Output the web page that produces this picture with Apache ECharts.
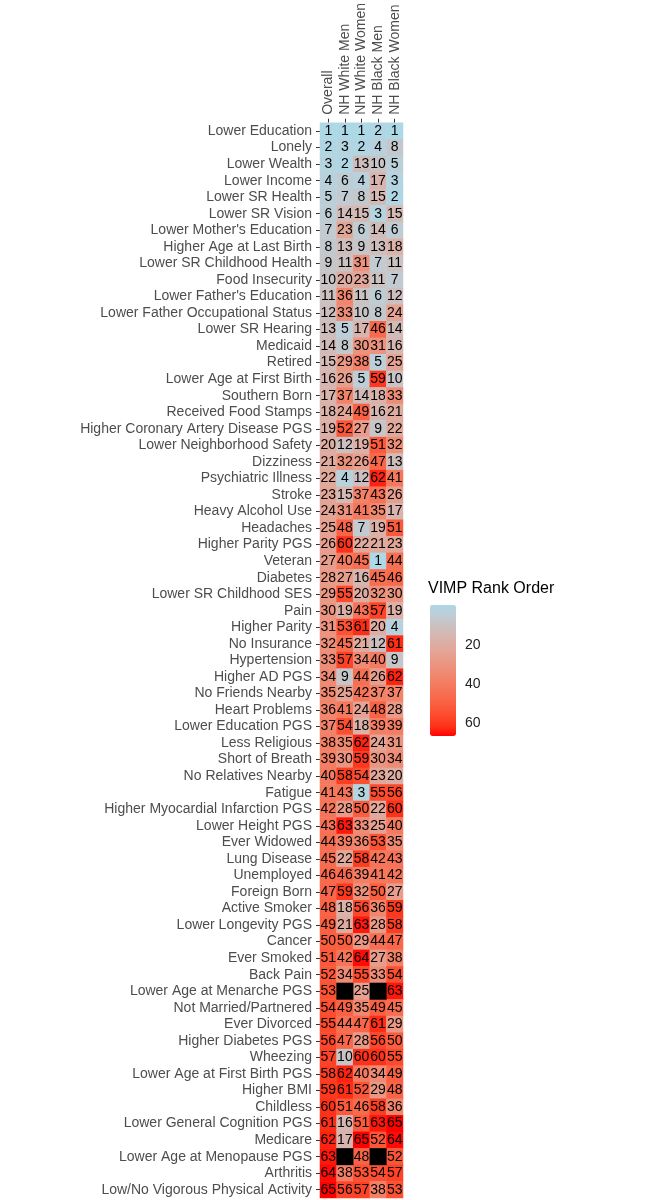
<!DOCTYPE html>
<html>
<head>
<meta charset="utf-8">
<title>VIMP Rank Order</title>
<script src="https://cdn.jsdelivr.net/npm/echarts@6/dist/echarts.min.js"></script>
<style>
  html, body { margin: 0; padding: 0; background: #ffffff; }
  #chart { width: 645px; height: 1200px; }
</style>
</head>
<body>
<div id="chart"></div>
<script>
// 分组（列）
const groups = ["Overall", "NH White Men", "NH White Women", "NH Black Men", "NH Black Women"];

// 变量（行），自上而下
const variables = [
  "Lower Education", "Lonely", "Lower Wealth", "Lower Income", "Lower SR Health",
  "Lower SR Vision", "Lower Mother's Education", "Higher Age at Last Birth", "Lower SR Childhood Health", "Food Insecurity",
  "Lower Father's Education", "Lower Father Occupational Status", "Lower SR Hearing", "Medicaid", "Retired",
  "Lower Age at First Birth", "Southern Born", "Received Food Stamps", "Higher Coronary Artery Disease PGS", "Lower Neighborhood Safety",
  "Dizziness", "Psychiatric Illness", "Stroke", "Heavy Alcohol Use", "Headaches",
  "Higher Parity PGS", "Veteran", "Diabetes", "Lower SR Childhood SES", "Pain",
  "Higher Parity", "No Insurance", "Hypertension", "Higher AD PGS", "No Friends Nearby",
  "Heart Problems", "Lower Education PGS", "Less Religious", "Short of Breath", "No Relatives Nearby",
  "Fatigue", "Higher Myocardial Infarction PGS", "Lower Height PGS", "Ever Widowed", "Lung Disease",
  "Unemployed", "Foreign Born", "Active Smoker", "Lower Longevity PGS", "Cancer",
  "Ever Smoked", "Back Pain", "Lower Age at Menarche PGS", "Not Married/Partnered", "Ever Divorced",
  "Higher Diabetes PGS", "Wheezing", "Lower Age at First Birth PGS", "Higher BMI", "Childless",
  "Lower General Cognition PGS", "Medicare", "Lower Age at Menopause PGS", "Arthritis", "Low/No Vigorous Physical Activity"
];

// 各列的排名（null = 无数据）
const overall = [
  1, 2, 3, 4, 5, 6, 7, 8, 9, 10, 11, 12, 13, 14, 15, 16, 17, 18, 19, 20,
  21, 22, 23, 24, 25, 26, 27, 28, 29, 30, 31, 32, 33, 34, 35, 36, 37, 38, 39, 40,
  41, 42, 43, 44, 45, 46, 47, 48, 49, 50, 51, 52, 53, 54, 55, 56, 57, 58, 59, 60,
  61, 62, 63, 64, 65
];
const whiteMen = [
  1, 3, 2, 6, 7, 14, 23, 13, 11, 20, 36, 33, 5, 8, 29, 26, 37, 24, 52, 12,
  32, 4, 15, 31, 48, 60, 40, 27, 55, 19, 53, 45, 57, 9, 25, 41, 54, 35, 30, 58,
  43, 28, 63, 39, 22, 46, 59, 18, 21, 50, 42, 34, null, 49, 44, 47, 10, 62, 61, 51,
  16, 17, null, 38, 56
];
const whiteWomen = [
  1, 2, 13, 4, 8, 15, 6, 9, 31, 23, 11, 10, 17, 30, 38, 5, 14, 49, 27, 19,
  26, 12, 37, 41, 7, 22, 45, 16, 20, 43, 61, 21, 34, 44, 42, 24, 18, 62, 59, 54,
  3, 50, 33, 36, 58, 39, 32, 56, 63, 29, 64, 55, 25, 35, 47, 28, 60, 40, 52, 46,
  51, 65, 48, 53, 57
];
const blackMen = [
  2, 4, 10, 17, 15, 3, 14, 13, 7, 11, 6, 8, 46, 31, 5, 59, 18, 16, 9, 51,
  47, 62, 43, 35, 19, 21, 1, 45, 32, 57, 20, 12, 40, 26, 37, 48, 39, 24, 30, 23,
  55, 22, 25, 53, 42, 41, 50, 36, 28, 44, 27, 33, null, 49, 61, 56, 60, 34, 29, 58,
  63, 52, null, 54, 38
];
const blackWomen = [
  1, 8, 5, 3, 2, 15, 6, 18, 11, 7, 12, 24, 14, 16, 25, 10, 33, 21, 22, 32,
  13, 41, 26, 17, 51, 23, 44, 46, 30, 19, 4, 61, 9, 62, 37, 28, 39, 31, 34, 20,
  56, 60, 40, 35, 43, 42, 27, 59, 58, 47, 38, 54, 63, 45, 29, 50, 55, 49, 48, 36,
  65, 64, 52, 57, 53
];

// 图例刻度
const legendTicks = [20, 40, 60];

const columns = [overall, whiteMen, whiteWomen, blackMen, blackWomen];

// 组装热力图数据
const cells = [];
const naCells = [];
columns.forEach((col, x) => {
  col.forEach((v, y) => {
    if (v === null) naCells.push([x, y, 0]);
    else cells.push([x, y, v]);
  });
});

// lightblue -> red，按 Lab 空间插值（同 ggplot 的渐变）
function toLab(hex) {
  const c = [1, 3, 5].map(i => parseInt(hex.substr(i, 2), 16) / 255)
    .map(u => u <= 0.04045 ? u / 12.92 : Math.pow((u + 0.055) / 1.055, 2.4));
  const X = (0.4124 * c[0] + 0.3576 * c[1] + 0.1805 * c[2]) / 0.95047;
  const Y = (0.2126 * c[0] + 0.7152 * c[1] + 0.0722 * c[2]);
  const Z = (0.0193 * c[0] + 0.1192 * c[1] + 0.9505 * c[2]) / 1.08883;
  const f = t => t > 0.008856 ? Math.cbrt(t) : 7.787 * t + 16 / 116;
  return [116 * f(Y) - 16, 500 * (f(X) - f(Y)), 200 * (f(Y) - f(Z))];
}
function fromLab(L, a, b) {
  const fy = (L + 16) / 116, fx = fy + a / 500, fz = fy - b / 200;
  const g = t => t * t * t > 0.008856 ? t * t * t : (t - 16 / 116) / 7.787;
  const X = g(fx) * 0.95047, Y = g(fy), Z = g(fz) * 1.08883;
  const lin = [
    3.2406 * X - 1.5372 * Y - 0.4986 * Z,
    -0.9689 * X + 1.8758 * Y + 0.0415 * Z,
    0.0557 * X - 0.2040 * Y + 1.0570 * Z
  ];
  const s = lin.map(u => u <= 0.0031308 ? 12.92 * u : 1.055 * Math.pow(u, 1 / 2.4) - 0.055)
    .map(u => Math.round(Math.min(1, Math.max(0, u)) * 255));
  return "rgb(" + s.join(",") + ")";
}
const lowLab = toLab("#ADD8E6");
const highLab = toLab("#FF0000");
const rampColors = [];
for (let i = 0; i <= 16; i++) {
  const t = i / 16;
  rampColors.push(fromLab(
    lowLab[0] + (highLab[0] - lowLab[0]) * t,
    lowLab[1] + (highLab[1] - lowLab[1]) * t,
    lowLab[2] + (highLab[2] - lowLab[2]) * t
  ));
}

const font = "'Liberation Sans', Arial, sans-serif";
const chart = echarts.init(document.getElementById("chart"));

const option = {
  backgroundColor: "#ffffff",
  animation: false,
  textStyle: { fontFamily: font },

  // 图例标题
  title: {
    text: "VIMP Rank Order",
    left: 428,
    top: 581,
    padding: 0,
    textStyle: { fontFamily: font, fontSize: 16, fontWeight: "normal", color: "#000000" }
  },

  grid: [
    // 热力图区域
    { left: 320, top: 122, width: 83, height: 1076 },
    // 图例刻度区域（与色条重叠）
    { left: 430, top: 608, width: 26, height: 125 }
  ],

  xAxis: [
    {
      type: "category",
      gridIndex: 0,
      position: "top",
      data: groups,
      axisLine: { show: false },
      axisTick: { show: true, alignWithLabel: true, length: 4, lineStyle: { color: "#333333" } },
      // 文字自下而上
      axisLabel: { interval: 0, rotate: -90, margin: 8, fontSize: 14, color: "#4d4d4d", fontFamily: font },
      splitLine: { show: false }
    },
    {
      type: "value",
      gridIndex: 1,
      show: false
    }
  ],

  yAxis: [
    {
      type: "category",
      gridIndex: 0,
      inverse: true,
      data: variables,
      axisLine: { show: false },
      axisTick: { show: true, alignWithLabel: true, length: 4, lineStyle: { color: "#333333" } },
      axisLabel: { interval: 0, margin: 8, fontSize: 14, color: "#4d4d4d", fontFamily: font },
      splitLine: { show: false }
    },
    {
      type: "value",
      gridIndex: 1,
      min: 1,
      max: 65,
      inverse: true,
      position: "right",
      axisLine: { show: false },
      axisTick: { show: true, inside: true, length: 5, customValues: legendTicks, lineStyle: { color: "#ffffff", width: 1 } },
      axisLabel: { margin: 9, fontSize: 14, color: "#222222", fontFamily: font, customValues: legendTicks },
      splitLine: { show: false }
    },
    {
      type: "value",
      gridIndex: 1,
      min: 1,
      max: 65,
      inverse: true,
      position: "left",
      axisLine: { show: false },
      axisTick: { show: true, inside: true, length: 5, customValues: legendTicks, lineStyle: { color: "#ffffff", width: 1 } },
      axisLabel: { show: false },
      splitLine: { show: false }
    }
  ],

  // 色条
  visualMap: {
    type: "continuous",
    seriesIndex: 0,
    min: 1,
    max: 65,
    inverse: true,
    calculable: false,
    orient: "vertical",
    left: 430,
    top: 605,
    padding: 0,
    itemWidth: 26,
    itemHeight: 131,
    text: null,
    showLabel: false,
    inRange: { color: rampColors }
  },

  series: [
    {
      name: "rank",
      type: "heatmap",
      xAxisIndex: 0,
      yAxisIndex: 0,
      data: cells,
      label: {
        show: true,
        fontSize: 14,
        fontFamily: font,
        color: "#000000",
        formatter: p => p.value[2]
      },
      itemStyle: { borderWidth: 0 },
      emphasis: { disabled: true }
    },
    {
      name: "NA",
      type: "heatmap",
      xAxisIndex: 0,
      yAxisIndex: 0,
      data: naCells,
      itemStyle: { color: "#000000" },
      label: { show: false },
      emphasis: { disabled: true }
    }
  ]
};

chart.setOption(option);
</script>
</body>
</html>
